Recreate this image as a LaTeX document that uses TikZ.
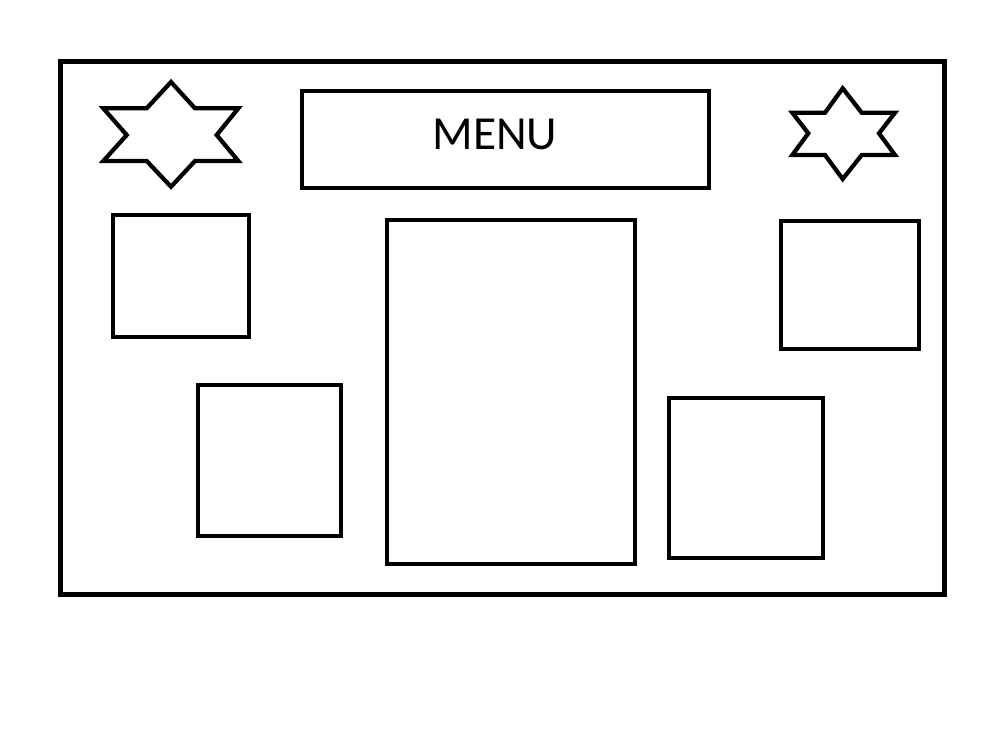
\documentclass[tikz,border=0pt]{standalone}
\usepackage{fontspec}
\setmainfont{Carlito}
\begin{document}
\begin{tikzpicture}[x=0.02cm,y=-0.02cm,
  frame/.style={draw=black,line width=0.1cm},
  panel/.style={draw=black,line width=0.09cm},
  starline/.style={draw=black,line width=0.085cm,line join=miter}]
\useasboundingbox (0,0) rectangle (1000,728);
\fill[white] (0,0) rectangle (1000,728);
% outer frame
\draw[frame] (60.5,61) rectangle (944.5,594.5);
% menu bar
\draw[panel] (302,91) rectangle (709,188);
\node[inner sep=0pt,font=\fontsize{27}{29}\selectfont] (menu) at (495,134.5) {MENU};
% boxes
\draw[panel] (113,215) rectangle (249,337);
\draw[panel] (198,385) rectangle (341,536);
\draw[panel] (387,220) rectangle (635,564);
\draw[panel] (781,221) rectangle (919,349);
\draw[panel] (669,398) rectangle (823,558);
% left star
\draw[starline] (171,82) -- (146.7,108.3) -- (103.3,108.3) -- (126.7,135) -- (103.3,161) -- (146.7,161) -- (171,186.7) -- (195,161) -- (238.3,161) -- (216.7,135) -- (238.3,108.3) -- (195,108.3) -- cycle;
% right star
\draw[starline] (842.7,88.3) -- (825,112.7) -- (792.3,112.7) -- (808.3,133.3) -- (792.3,155) -- (825,155) -- (842.7,179) -- (861.7,155) -- (895,155) -- (879,133.3) -- (895,112.7) -- (861.7,112.7) -- cycle;
\end{tikzpicture}
\end{document}
